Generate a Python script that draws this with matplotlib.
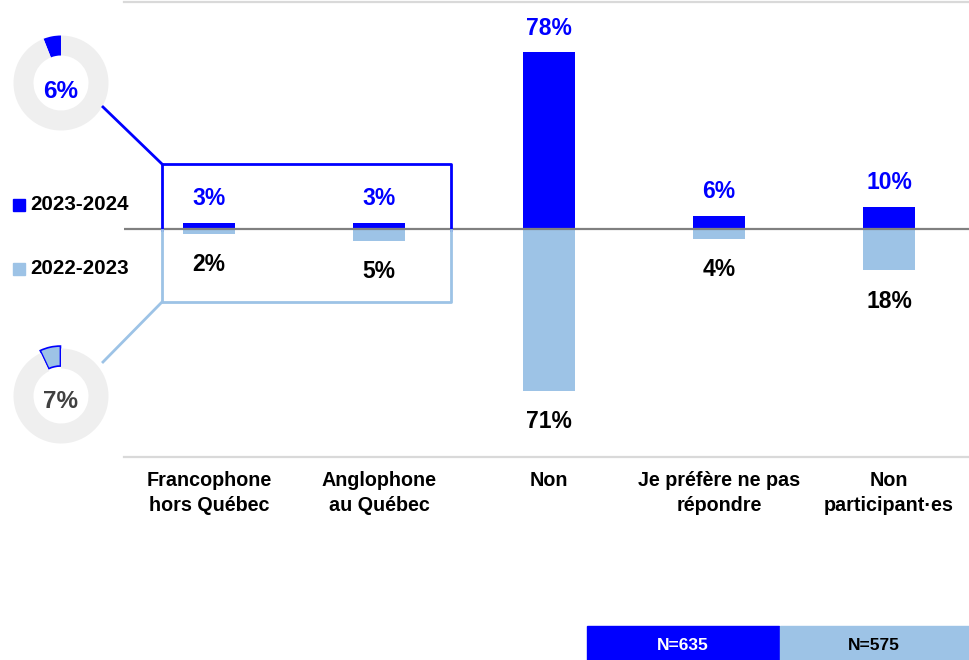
import matplotlib
matplotlib.use("Agg")
import matplotlib.pyplot as plt
from matplotlib.patches import Rectangle
from matplotlib.lines import Line2D
import numpy as np

plt.rcParams['font.family'] = ['Liberation Sans', 'DejaVu Sans']

categories = ["Francophone\nhors Québec", "Anglophone\nau Québec", "Non",
              "Je préfère ne pas\nrépondre", "Non\nparticipant·es"]
values_2324 = [3, 3, 78, 6, 10]
values_2223 = [2, 5, 71, 4, 18]
series_names = ["2023-2024", "2022-2023"]
donut_2324 = 6
donut_2223 = 7
n_labels = ["N=635", "N=575"]

BLUE = "#0000FF"
LIGHT = "#9DC3E6"
W, H = 969, 660

fig = plt.figure(figsize=(W / 100, H / 100), dpi=100)

def fx(px):
    return px / W

def fy(py):
    return 1 - py / H

# main axes
ax = fig.add_axes([fx(124), fy(457), (969 - 124) / W, (457 - 2) / H])
x = np.arange(len(categories))
ax.bar(x, values_2324, width=0.31, color=BLUE, zorder=3)
ax.bar(x, [-v for v in values_2223], width=0.31, color=LIGHT, zorder=2)
ax.set_xlim(-0.5, 4.47)
ax.set_ylim(-100, 100)
ax.axhline(0, color="#808080", lw=1.6, zorder=4)
ax.axhline(100, color="#d9d9d9", lw=1.6, clip_on=False)
ax.axhline(-100, color="#d9d9d9", lw=1.6, clip_on=False)
for s in ax.spines.values():
    s.set_visible(False)
ax.set_yticks([])
ax.set_xticks(x)
ax.set_xticklabels(categories, fontsize=14.2, fontweight="bold", linespacing=1.38)
ax.tick_params(axis="x", length=0, pad=10)

for i, (a, b) in enumerate(zip(values_2324, values_2223)):
    ax.annotate(f"{a}%", (i, a), xytext=(0, 9), textcoords="offset points",
                ha="center", va="bottom", color=BLUE, fontsize=16.5, fontweight="bold")
    ax.annotate(f"{b}%", (i, -b), xytext=(0, -14), textcoords="offset points",
                ha="center", va="top", color="black", fontsize=16.5, fontweight="bold")

# callout boxes and connectors (figure pixel coords)
def fline(xs, ys, color, lw=2):
    fig.add_artist(Line2D([fx(v) for v in xs], [fy(v) for v in ys],
                          color=color, lw=lw, transform=fig.transFigure, zorder=5))

fline([162, 162, 451, 451], [230, 164, 164, 230], BLUE)
fline([162, 162, 451, 451], [230, 302, 302, 230], LIGHT)
fline([103, 162], [107, 164], BLUE)
fline([103, 162], [362, 302], LIGHT)

# donuts
def donut(cx, cy, val, color, txtcolor, explode, edge, ty):
    size = 100
    dax = fig.add_axes([fx(cx - size / 2), fy(cy + size / 2), size / W, size / H])
    wedges, _ = dax.pie([val, 100 - val], colors=[color, "#EFEFEF"], startangle=90,
                        counterclock=True, radius=0.95,
                        explode=[explode, 0],
                        wedgeprops=dict(width=0.4, linewidth=0))
    if edge:
        wedges[0].set_edgecolor(BLUE)
        wedges[0].set_linewidth(1.2)
    dax.set_xlim(-1, 1)
    dax.set_ylim(-1, 1)
    dax.set_aspect("equal")
    dax.axis("off")
    dax.text(0, ty, f"{val}%", ha="center", va="center", fontsize=17.5,
             fontweight="bold", color=txtcolor)

donut(61, 83, donut_2324, BLUE, BLUE, 0, False, -0.16)
donut(61, 396, donut_2223, LIGHT, "#404040", 0.05, True, -0.12)

# legend
fig.add_artist(Rectangle((fx(13), fy(211)), 12 / W, 12 / H, color=BLUE,
                         transform=fig.transFigure))
fig.add_artist(Rectangle((fx(13), fy(275)), 12 / W, 12 / H, color=LIGHT,
                         transform=fig.transFigure))
fig.text(fx(30), fy(205), series_names[0], ha="left", va="center",
         fontsize=14.8, fontweight="bold")
fig.text(fx(30), fy(269), series_names[1], ha="left", va="center",
         fontsize=14.8, fontweight="bold")

# N boxes
fig.add_artist(Rectangle((fx(587), 0), (779 - 587) / W, (660 - 626) / H,
                         color=BLUE, transform=fig.transFigure))
fig.add_artist(Rectangle((fx(780), 0), (969 - 780) / W, (660 - 626) / H,
                         color=LIGHT, transform=fig.transFigure))
fig.text(fx(683), fy(646), n_labels[0], ha="center", va="center",
         fontsize=12.5, fontweight="bold", color="white")
fig.text(fx(874), fy(646), n_labels[1], ha="center", va="center",
         fontsize=12.5, fontweight="bold", color="black")

fig.savefig("out.png", dpi=100)
